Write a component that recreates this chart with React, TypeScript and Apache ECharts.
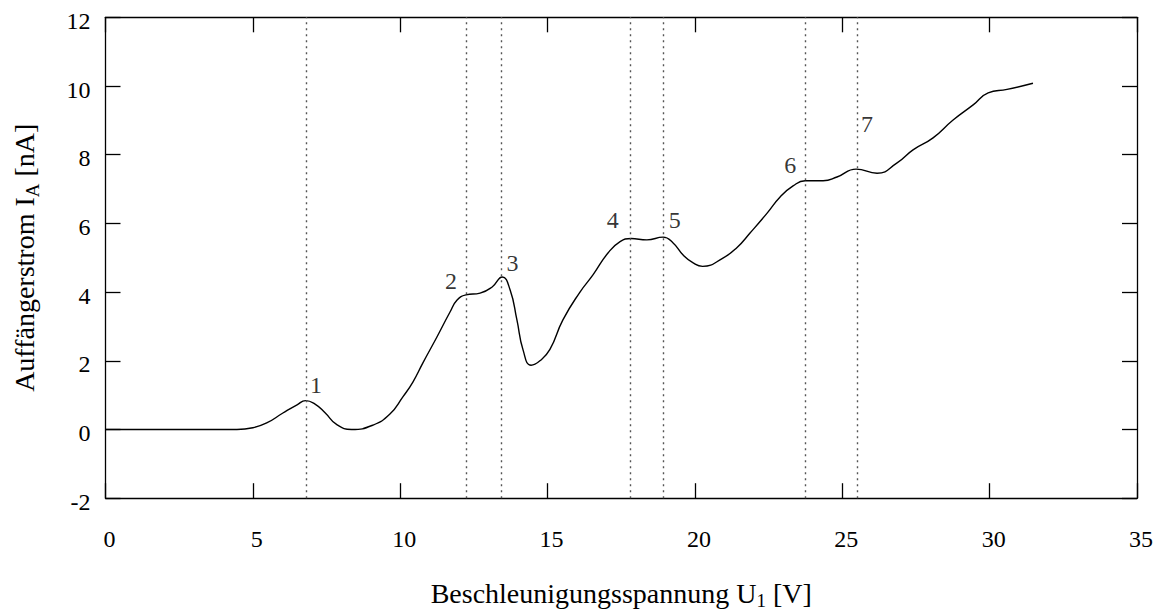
import React, { useEffect, useRef } from "react";
import * as echarts from "echarts";

const voltage = [
  0, 2, 4, 4.46, 5.0, 5.47, 6.02, 6.5, 6.79, 7.11, 7.45, 7.85, 8.35, 9.08, 9.65, 10.09,
  10.43, 10.77, 11.25, 11.69, 11.93, 12.23, 12.71, 13.12, 13.46, 13.73, 13.96, 14.17,
  14.44, 14.74, 15.08, 15.52, 16.1, 16.54, 17.05, 17.46, 17.83, 18.37, 18.92, 19.26,
  19.6, 19.94, 20.26, 20.95, 21.43, 21.87, 22.45, 22.89, 23.33, 23.74, 24.35, 24.82,
  25.47, 26.18, 26.86, 27.4, 28.08, 28.76, 29.44, 29.95, 30.59, 31.47,
];
const current = [
  0, 0, 0, 0.0, 0.05, 0.19, 0.48, 0.72, 0.84, 0.74, 0.49, 0.14, 0.0, 0.13, 0.45, 0.95,
  1.38, 1.94, 2.7, 3.42, 3.77, 3.92, 3.97, 4.15, 4.44, 4.06, 3.19, 2.31,
  1.87, 2.0, 2.33, 3.19, 4.0, 4.5, 5.14, 5.47, 5.56, 5.52, 5.6, 5.43,
  5.08, 4.85, 4.75, 4.99, 5.3, 5.72, 6.3, 6.77, 7.09, 7.24, 7.24, 7.35,
  7.58, 7.46, 7.76, 8.14, 8.49, 9.01, 9.45, 9.8, 9.9, 10.08,
];

const peakNames = ["1", "2", "3", "4", "5", "6", "7"];
const peakVoltage = [6.8, 12.23, 13.44, 17.82, 18.94, 23.74, 25.5];
const peakLabelCurrent = [1.3, 4.31, 4.85, 6.1, 6.1, 7.7, 8.9];
const peakLabelSide = ["right", "left", "right", "left", "right", "left", "right"];
const peakLabelGap = [4, 9, 5, 12, 5, 9, 4];

const xTicks = { min: 0, max: 35, interval: 5 };
const yTicks = { min: -2, max: 12, interval: 2 };

const FONT = "'Liberation Serif', 'Times New Roman', serif";
const INK = "#000";

export default function App() {
  const ref = useRef<HTMLDivElement>(null);

  useEffect(() => {
    if (!ref.current) return;
    const chart = echarts.init(ref.current, undefined, { renderer: "svg" });

    const axisLineStyle = { color: INK, width: 1.3 };
    const tickStyle = { show: true, inside: true, length: 15, lineStyle: { color: INK, width: 1.3 } };
    const subStyle = { fontFamily: FONT, fontSize: 19, lineHeight: 19, verticalAlign: "bottom", color: INK };
    const numStyle = { fontFamily: FONT, fontSize: 24, color: INK };

    const option: any = {
      animation: false,
      backgroundColor: "#fff",
      textStyle: { fontFamily: FONT, color: INK },
      grid: { left: 105.5, right: 24, top: 17.3, bottom: 113.8, containLabel: false, outerBoundsMode: "none" },
      xAxis: [
        {
          type: "value",
          ...xTicks,
          position: "bottom",
          axisLine: { show: true, onZero: false, lineStyle: axisLineStyle },
          axisTick: tickStyle,
          splitLine: { show: false },
          axisLabel: {
            ...numStyle,
            margin: 29,
            padding: [0, 0, 0, 8],
            formatter: (v: number) => `{n|${v}}`,
            rich: { n: numStyle },
          },
          name: "Beschleunigungsspannung U{sub|1} [V]",
          nameLocation: "middle",
          nameGap: 78,
          nameTextStyle: {
            fontFamily: FONT,
            fontSize: 28,
            color: INK,
            lineHeight: 34,
            rich: { sub: subStyle },
          },
        },
        {
          type: "value",
          ...xTicks,
          position: "top",
          axisLine: { show: true, onZero: false, lineStyle: axisLineStyle },
          axisTick: tickStyle,
          splitLine: { show: false },
          axisLabel: { show: false },
        },
      ],
      yAxis: [
        {
          type: "value",
          ...yTicks,
          position: "left",
          axisLine: { show: true, onZero: false, lineStyle: axisLineStyle },
          axisTick: tickStyle,
          splitLine: { show: false },
          axisLabel: {
            ...numStyle,
            margin: 15,
            padding: [7, 0, 0, 0],
            formatter: (v: number) => `{n|${v}}`,
            rich: { n: numStyle },
          },
          name: "Auffängerstrom I{sub|A} [nA]",
          nameLocation: "middle",
          nameGap: 64,
          nameRotate: 90,
          nameTextStyle: {
            fontFamily: FONT,
            fontSize: 28,
            color: INK,
            lineHeight: 34,
            rich: { sub: subStyle },
          },
        },
        {
          type: "value",
          ...yTicks,
          position: "right",
          axisLine: { show: true, onZero: false, lineStyle: axisLineStyle },
          axisTick: tickStyle,
          splitLine: { show: false },
          axisLabel: { show: false },
        },
      ],
      series: [
        {
          type: "line",
          xAxisIndex: 0,
          yAxisIndex: 0,
          data: voltage.map((v, i) => [v, current[i]]),
          smooth: 0.5,
          showSymbol: false,
          symbol: "none",
          lineStyle: { color: "#000", width: 1.4 },
          markLine: {
            silent: true,
            symbol: ["none", "none"],
            label: { show: false },
            lineStyle: { color: "#555", type: [2, 4], width: 1.4 },
            data: peakVoltage.map((v) => ({ xAxis: v })),
          },
        },
        {
          type: "scatter",
          xAxisIndex: 0,
          yAxisIndex: 0,
          symbolSize: 0,
          silent: true,
          data: peakVoltage.map((v, i) => ({
            value: [v, peakLabelCurrent[i]],
            label: {
              show: true,
              position: peakLabelSide[i],
              distance: peakLabelGap[i],
              formatter: `{n|${peakNames[i]}}`,
              ...numStyle,
              rich: { n: numStyle },
            },
          })),
        },
      ],
    };

    chart.setOption(option);
    return () => chart.dispose();
  }, []);

  return (
    <div
      ref={ref}
      style={{ position: "fixed", left: 0, top: 0, width: 1161, height: 612, background: "#fff" }}
    />
  );
}
